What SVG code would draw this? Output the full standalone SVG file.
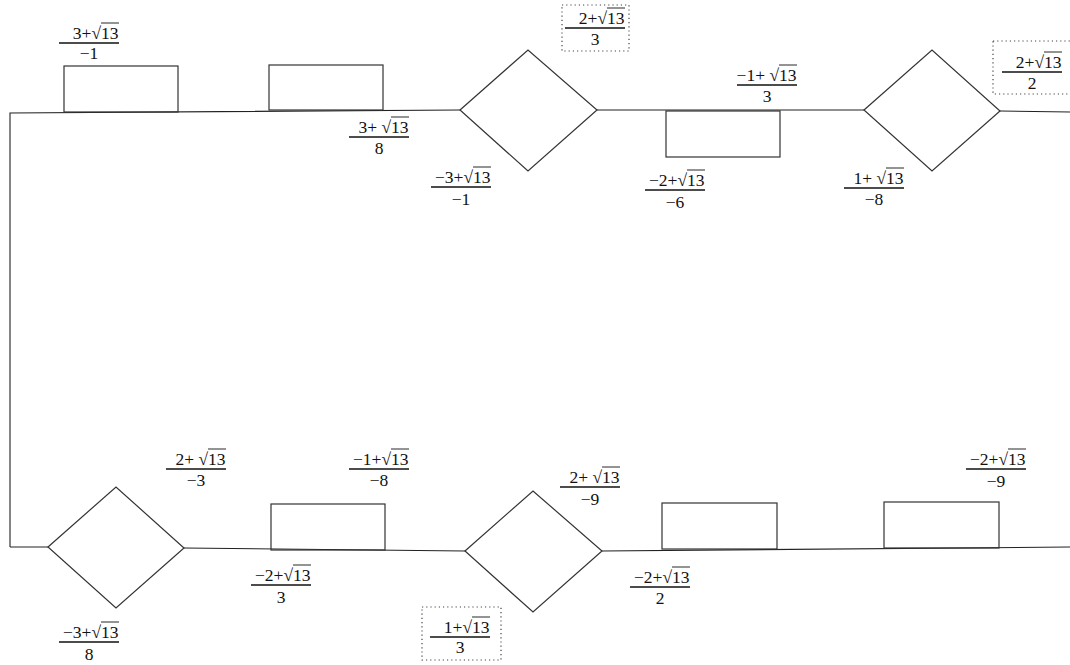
<svg xmlns="http://www.w3.org/2000/svg" width="1070" height="665" viewBox="0 0 1070 665">
<style>
.edge{fill:none;stroke:#222;stroke-width:1.1}
.shape{fill:none;stroke:#333;stroke-width:1.2}
.dot{fill:none;stroke:#444;stroke-width:1.2;stroke-dasharray:1.2 3}
.t{font-family:"Liberation Serif","Times New Roman",serif;font-size:17.5px;fill:#111}
.n{text-anchor:end}
.d{text-anchor:middle}
.bar{stroke:#111;stroke-width:1.4}
.ov{stroke:#111;stroke-width:0.9}
</style>
<rect width="1070" height="665" fill="#fff"/>
<g id="connectors">
<path class="edge" d="M10,547 L10,113 L460,110"/>
<path class="edge" d="M597,110 L864,110"/>
<path class="edge" d="M1000,111 L1070,112"/>
<path class="edge" d="M10,547 L48,547"/>
<path class="edge" d="M184,548 L465,551"/>
<path class="edge" d="M602,551 L1070,547"/>
</g>
<g id="rect1"><rect class="shape" x="64" y="66" width="114" height="46"/></g>
<g id="rect2"><rect class="shape" x="269" y="65" width="114" height="45"/></g>
<g id="diamond1"><polygon class="shape" points="460,110 528,50 597,110 528,171"/></g>
<g id="rect3"><rect class="shape" x="666" y="111" width="114" height="46"/></g>
<g id="diamond2"><polygon class="shape" points="864,110 932,50 1000,111 932,171"/></g>
<g id="diamond3"><polygon class="shape" points="48,547 116,487 184,548 116,608"/></g>
<g id="rect4"><rect class="shape" x="271" y="504" width="114" height="46"/></g>
<g id="diamond4"><polygon class="shape" points="465,551 533,491 602,551 533,612"/></g>
<g id="rect5"><rect class="shape" x="662" y="503" width="115" height="46"/></g>
<g id="rect6"><rect class="shape" x="884" y="502" width="115" height="46"/></g>

<g id="labels">
<g><text class="t n" x="118.5" y="39">3+√13</text><line class="ov" x1="101" y1="23" x2="119" y2="23"/><line class="bar" x1="59" y1="43" x2="119" y2="43"/><text class="t d" x="89" y="59">−1</text></g>
<g><text class="t n" x="408.5" y="133">3+ √13</text><line class="ov" x1="391" y1="117" x2="409" y2="117"/><line class="bar" x1="349" y1="137" x2="409" y2="137"/><text class="t d" x="379" y="154">8</text></g>
<g><text class="t n" x="490.5" y="183">−3+√13</text><line class="ov" x1="473" y1="167" x2="491" y2="167"/><line class="bar" x1="431" y1="187" x2="491" y2="187"/><text class="t d" x="461" y="205">−1</text></g>
<g><rect class="dot" x="562" y="5" width="67" height="46"/><text class="t n" x="624.5" y="24">2+√13</text><line class="ov" x1="607" y1="8" x2="625" y2="8"/><line class="bar" x1="565" y1="28" x2="625" y2="28"/><text class="t d" x="595" y="45">3</text></g>
<g><text class="t n" x="796.5" y="81">−1+ √13</text><line class="ov" x1="779" y1="65" x2="797" y2="65"/><line class="bar" x1="737" y1="85" x2="797" y2="85"/><text class="t d" x="767" y="102">3</text></g>
<g><text class="t n" x="704.5" y="186">−2+√13</text><line class="ov" x1="687" y1="170" x2="705" y2="170"/><line class="bar" x1="645" y1="190" x2="705" y2="190"/><text class="t d" x="675" y="208">−6</text></g>
<g><text class="t n" x="903.5" y="184">1+ √13</text><line class="ov" x1="886" y1="168" x2="904" y2="168"/><line class="bar" x1="844" y1="188" x2="904" y2="188"/><text class="t d" x="874" y="205">−8</text></g>
<g><rect class="dot" x="993" y="41" width="80" height="53"/><text class="t n" x="1061.5" y="68">2+√13</text><line class="ov" x1="1044" y1="52" x2="1062" y2="52"/><line class="bar" x1="1002" y1="72" x2="1062" y2="72"/><text class="t d" x="1032" y="88.5">2</text></g>
<g><text class="t n" x="225.5" y="465">2+ √13</text><line class="ov" x1="208" y1="449" x2="226" y2="449"/><line class="bar" x1="166" y1="469" x2="226" y2="469"/><text class="t d" x="196" y="486">−3</text></g>
<g><text class="t n" x="118.5" y="638">−3+√13</text><line class="ov" x1="101" y1="622" x2="119" y2="622"/><line class="bar" x1="59" y1="642" x2="119" y2="642"/><text class="t d" x="89" y="660">8</text></g>
<g><text class="t n" x="310.5" y="581">−2+√13</text><line class="ov" x1="293" y1="565" x2="311" y2="565"/><line class="bar" x1="251" y1="585" x2="311" y2="585"/><text class="t d" x="281" y="603">3</text></g>
<g><text class="t n" x="408.5" y="465">−1+√13</text><line class="ov" x1="391" y1="449" x2="409" y2="449"/><line class="bar" x1="349" y1="469" x2="409" y2="469"/><text class="t d" x="379" y="486">−8</text></g>
<g><text class="t n" x="619.5" y="483">2+ √13</text><line class="ov" x1="602" y1="467" x2="620" y2="467"/><line class="bar" x1="560" y1="487" x2="620" y2="487"/><text class="t d" x="590" y="505">−9</text></g>
<g><rect class="dot" x="422" y="607" width="79" height="53"/><text class="t n" x="489.5" y="633">1+√13</text><line class="ov" x1="472" y1="617" x2="490" y2="617"/><line class="bar" x1="430" y1="637" x2="490" y2="637"/><text class="t d" x="460" y="653">3</text></g>
<g><text class="t n" x="689.5" y="583">−2+√13</text><line class="ov" x1="672" y1="567" x2="690" y2="567"/><line class="bar" x1="630" y1="587" x2="690" y2="587"/><text class="t d" x="660" y="604">2</text></g>
<g><text class="t n" x="1025.5" y="465">−2+√13</text><line class="ov" x1="1008" y1="449" x2="1026" y2="449"/><line class="bar" x1="966" y1="469" x2="1026" y2="469"/><text class="t d" x="996" y="487">−9</text></g>
</g>
</svg>
